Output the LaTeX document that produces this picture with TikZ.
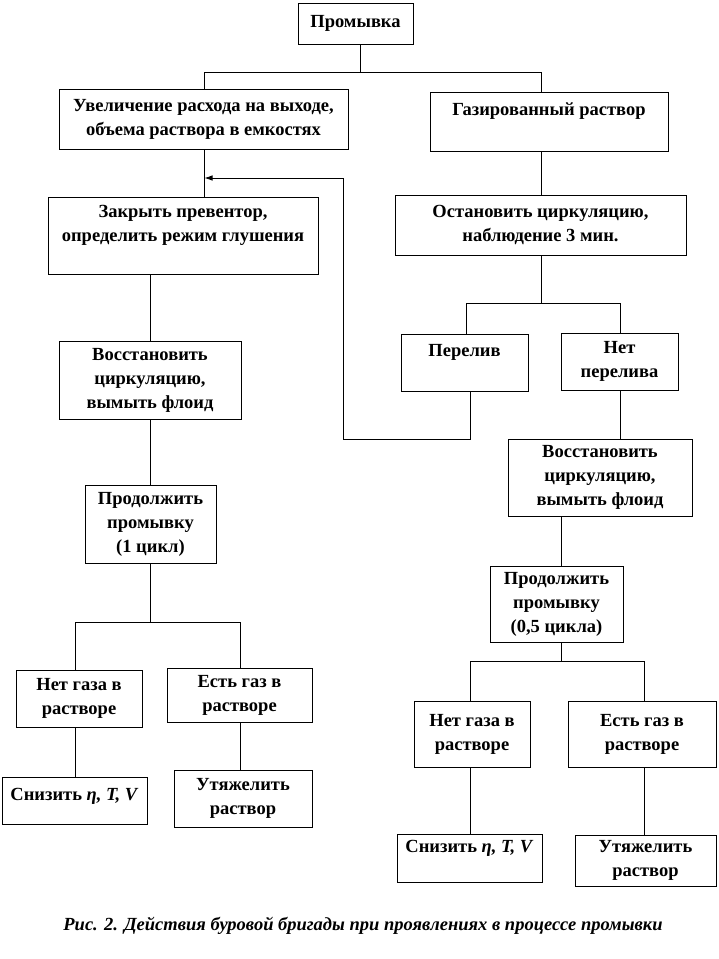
\documentclass[tikz,border=0pt]{standalone}
\usepackage{fontspec}
\setmainfont{Liberation Serif}
\usetikzlibrary{arrows.meta}

\begin{document}
\begin{tikzpicture}[
  x=1pt, y=-1pt,
  >={Latex[length=8pt,width=5.5pt]},
  % action box
  box/.style={draw, line width=0.8pt, inner sep=0pt, align=center,
              font=\bfseries\fontsize{18.5}{24}\selectfont},
  sz/.style 2 args={minimum width=#1pt, minimum height=#2pt},
  % connectors
  link/.style={draw, line width=0.8pt},
  arr/.style={->, draw, line width=0.8pt},
  figcap/.style={font=\bfseries\itshape\fontsize{18.5}{22}\selectfont},
]
\useasboundingbox (0,0) rectangle (719,959);

%% ── Top ────────────────────────────────────────────────────────────────
\node[box,sz={115}{41}] (PR) at (355.5,23.5) {Промывка};
\node[box,sz={289}{60}] (UV) at (203.5,119)  {Увеличение расхода на выходе,\\объема раствора в емкостях};
\node[box,sz={238}{59}] (GZ) at (549,121.5)  {Газированный раствор\\\mbox{}};

%% ── Left branch ────────────────────────────────────────────────────────
\node[box,sz={270}{77}] (ZP)  at (183,235.5) {Закрыть превентор,\\определить режим глушения\\\mbox{}};
\node[box,sz={182}{78}] (VC1) at (150,380)   {Восстановить\\циркуляцию,\\вымыть флоид};
\node[box,sz={131}{78}] (PP1) at (150.5,524) {Продолжить\\промывку\\(1 цикл)};
\node[box,sz={126}{57}] (NG1) at (79,698.5)  {Нет газа в\\растворе};
\node[box,sz={145}{54}] (EG1) at (239.5,695) {Есть газ в\\растворе};
\node[box,sz={145}{47}] (SN1) at (74.5,800.5) {Снизить \textit{η, T, V}\\[-12pt]\mbox{}};
\node[box,sz={138}{57}] (UT1) at (243,798.5) {Утяжелить\\раствор};

%% ── Right branch ───────────────────────────────────────────────────────
\node[box,sz={291}{60}] (OC)  at (540.5,225)  {Остановить циркуляцию,\\наблюдение 3 мин.};
\node[box,sz={127}{57}] (PE)  at (464.5,362.5) {Перелив\\\mbox{}};
\node[box,sz={117}{57}] (NP)  at (619.5,361.5) {Нет\\перелива};
\node[box,sz={184}{77}] (VC2) at (600,477.5)  {Восстановить\\циркуляцию,\\вымыть флоид};
\node[box,sz={133}{76}] (PP2) at (556.5,604)  {Продолжить\\промывку\\(0,5 цикла)};
\node[box,sz={116}{66}] (NG2) at (472,734)    {Нет газа в\\растворе};
\node[box,sz={148}{66}] (EG2) at (642,734)    {Есть газ в\\растворе};
\node[box,sz={145}{48}] (SN2) at (469.5,858)  {Снизить \textit{η, T, V}\\\mbox{}};
\node[box,sz={141}{51}] (UT2) at (645.5,860.5) {Утяжелить\\раствор};

%% ── Connectors ─────────────────────────────────────────────────────────
\coordinate (J0) at (360,72);
\draw[link] ([xshift=4.5pt]PR.south) -- (J0);
\draw[link] (J0) -| ([xshift=0.5pt]UV.north);
\draw[link] (J0) -| ([xshift=-8pt]GZ.north);

\draw[link] ([xshift=0.5pt]UV.south) -- ([xshift=0.5pt]UV.south |- ZP.north);
\draw[link] (VC1.north |- ZP.south) -- (VC1.north);
\draw[link] (VC1.south) -- (VC1.south |- PP1.north);

\coordinate (J1) at (150,622);
\draw[link] (J1 |- PP1.south) -- (J1);
\draw[link] (J1) -| ([xshift=-4pt]NG1.north);
\draw[link] (J1) -| ([xshift=1pt]EG1.north);
\draw[link] ([xshift=-4pt]NG1.south) -- ([xshift=-4pt]NG1.south |- SN1.north);
\draw[link] ([xshift=1pt]EG1.south) -- ([xshift=1pt]EG1.south |- UT1.north);

\draw[link] ([xshift=-8pt]GZ.south) -- ([xshift=-8pt]GZ.south |- OC.north);
\coordinate (J2) at (541,303);
\draw[link] (J2 |- OC.south) -- (J2);
\draw[link] (J2) -| ([xshift=1.5pt]PE.north);
\draw[link] (J2) -| ([xshift=0.5pt]NP.north);
\draw[link] ([xshift=0.5pt]NP.south) -- ([xshift=0.5pt]NP.south |- VC2.north);

\coordinate (J3) at (561,661);
\draw[link] (J3 |- VC2.south) -- (J3 |- PP2.north);
\draw[link] (J3 |- PP2.south) -- (J3);
\draw[link] (J3) -| ([xshift=-2pt]NG2.north);
\draw[link] (J3) -| ([xshift=2pt]EG2.north);
\draw[link] ([xshift=-2pt]NG2.south) -- ([xshift=-2pt]NG2.south |- SN2.north);
\draw[link] ([xshift=2pt]EG2.south) -- ([xshift=2pt]EG2.south |- UT2.north);

%% ── Overflow loop back ─────────────────────────────────────────────────
\coordinate (LP) at (343,439);
\coordinate (AI) at (204.5,178);
\draw[arr] ([xshift=5.5pt]PE.south) |- (LP) |- (AI);

%% ── Caption ────────────────────────────────────────────────────────────
\node[figcap] (CAP) at (363,926) {Рис. 2. Действия буровой бригады при проявлениях в процессе промывки};

\end{tikzpicture}
\end{document}
